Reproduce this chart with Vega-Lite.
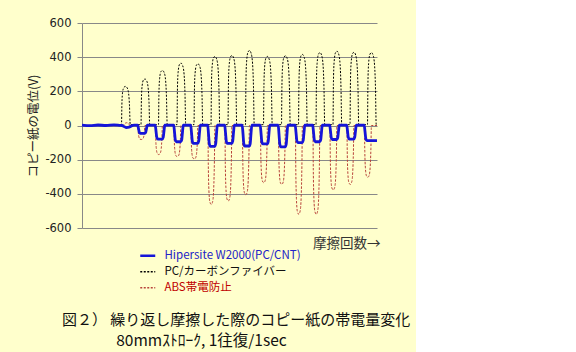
{
"$schema": "https://vega.github.io/schema/vega-lite/v6.json",
"width": 295, "height": 205,
"autosize": {"type": "none"},
"padding": {"left": 82, "top": 23, "right": 39, "bottom": 124},
"background": "#ffffcc",
"config": {"view": {"stroke": null}, "font": "Noto Sans CJK JP"},
"title": {"text": "図２） 繰り返し摩擦した際のコピー紙の帯電量変化", "subtitle": "\u200d\u3000\u3000\u3000\u200280mmｽﾄﾛｰｸ, 1往復/1sec", "orient": "bottom", "anchor": "start", "frame": "group", "dx": -20, "offset": 19, "fontSize": 15, "subtitleFontSize": 15.5, "font": "Noto Sans CJK JP", "subtitleFont": "Noto Sans CJK JP", "fontWeight": "normal", "color": "#111111", "subtitleColor": "#111111", "subtitlePadding": 6},
"datasets": {
"pc": [
{"t":0,"v":2},{"t":10,"v":0},{"t":20,"v":3},{"t":30,"v":1},{"t":37,"v":3},
{"t":39.5,"v":5},{"t":39.9,"v":126},{"t":40.6,"v":195},{"t":42.0,"v":224},{"t":43.5,"v":229},{"t":45.2,"v":220},{"t":46.6,"v":188},{"t":47.5,"v":115},{"t":48.2,"v":5},
{"t":59.0,"v":5},{"t":59.4,"v":150},{"t":60.1,"v":231},{"t":61.5,"v":267},{"t":63.0,"v":272},{"t":64.7,"v":261},{"t":66.1,"v":223},{"t":67.0,"v":136},{"t":67.7,"v":5},
{"t":76.5,"v":5},{"t":76.9,"v":177},{"t":77.6,"v":274},{"t":79.0,"v":316},{"t":80.5,"v":322},{"t":82.2,"v":309},{"t":83.6,"v":264},{"t":84.5,"v":161},{"t":85.2,"v":5},
{"t":95.0,"v":5},{"t":95.4,"v":201},{"t":96.1,"v":310},{"t":97.5,"v":358},{"t":99.0,"v":365},{"t":100.7,"v":350},{"t":102.1,"v":299},{"t":103.0,"v":183},{"t":103.7,"v":5},
{"t":112.0,"v":5},{"t":112.4,"v":199},{"t":113.1,"v":307},{"t":114.5,"v":354},{"t":116.0,"v":361},{"t":117.7,"v":347},{"t":119.1,"v":296},{"t":120.0,"v":181},{"t":120.7,"v":5},
{"t":129.0,"v":5},{"t":129.4,"v":222},{"t":130.1,"v":343},{"t":131.5,"v":396},{"t":133.0,"v":404},{"t":134.7,"v":388},{"t":136.1,"v":331},{"t":137.0,"v":202},{"t":137.7,"v":5},
{"t":146.0,"v":5},{"t":146.4,"v":226},{"t":147.1,"v":349},{"t":148.5,"v":402},{"t":150.0,"v":410},{"t":151.7,"v":394},{"t":153.1,"v":336},{"t":154.0,"v":205},{"t":154.7,"v":5},
{"t":163.5,"v":5},{"t":163.9,"v":241},{"t":164.6,"v":373},{"t":166.0,"v":430},{"t":167.5,"v":439},{"t":169.2,"v":421},{"t":170.6,"v":360},{"t":171.5,"v":220},{"t":172.2,"v":5},
{"t":181.5,"v":5},{"t":181.9,"v":222},{"t":182.6,"v":343},{"t":184.0,"v":396},{"t":185.5,"v":404},{"t":187.2,"v":388},{"t":188.6,"v":331},{"t":189.5,"v":202},{"t":190.2,"v":5},
{"t":199.5,"v":5},{"t":199.9,"v":224},{"t":200.6,"v":347},{"t":202.0,"v":400},{"t":203.5,"v":408},{"t":205.2,"v":392},{"t":206.6,"v":335},{"t":207.5,"v":204},{"t":208.2,"v":5},
{"t":216.5,"v":5},{"t":216.9,"v":229},{"t":217.6,"v":354},{"t":219.0,"v":408},{"t":220.5,"v":416},{"t":222.2,"v":399},{"t":223.6,"v":341},{"t":224.5,"v":208},{"t":225.2,"v":5},
{"t":234.0,"v":5},{"t":234.4,"v":235},{"t":235.1,"v":363},{"t":236.5,"v":418},{"t":238.0,"v":427},{"t":239.7,"v":410},{"t":241.1,"v":350},{"t":242.0,"v":214},{"t":242.7,"v":5},
{"t":251.0,"v":5},{"t":251.4,"v":239},{"t":252.1,"v":370},{"t":253.5,"v":426},{"t":255.0,"v":435},{"t":256.7,"v":418},{"t":258.1,"v":357},{"t":259.0,"v":218},{"t":259.7,"v":5},
{"t":268.0,"v":5},{"t":268.4,"v":236},{"t":269.1,"v":365},{"t":270.5,"v":420},{"t":272.0,"v":429},{"t":273.7,"v":412},{"t":275.1,"v":352},{"t":276.0,"v":215},{"t":276.7,"v":5},
{"t":285.5,"v":5},{"t":285.9,"v":235},{"t":286.6,"v":363},{"t":288.0,"v":418},{"t":289.5,"v":427},{"t":291.2,"v":410},{"t":292.6,"v":350},{"t":293.5,"v":214},{"t":294.2,"v":5},
{"t":295,"v":4}
],
"abs": [
{"t":0,"v":0},{"t":10,"v":-2},{"t":20,"v":1},{"t":30,"v":-1},{"t":39,"v":0},{"t":41,"v":0},{"t":42.5,"v":10},{"t":44.5,"v":16},{"t":46.5,"v":12},{"t":48,"v":0},
{"t":55.9,"v":0},{"t":56.3,"v":-41},{"t":56.9,"v":-67},{"t":57.9,"v":-80},{"t":59.3,"v":-82},{"t":60.7,"v":-79},{"t":61.7,"v":-66},{"t":62.4,"v":-37},{"t":62.9,"v":0},
{"t":73.4,"v":0},{"t":73.8,"v":-85},{"t":74.4,"v":-139},{"t":75.4,"v":-165},{"t":76.8,"v":-170},{"t":78.2,"v":-163},{"t":79.2,"v":-136},{"t":79.9,"v":-77},{"t":80.4,"v":0},
{"t":91.9,"v":0},{"t":92.3,"v":-91},{"t":92.9,"v":-149},{"t":93.9,"v":-177},{"t":95.3,"v":-182},{"t":96.7,"v":-175},{"t":97.7,"v":-146},{"t":98.4,"v":-82},{"t":98.9,"v":0},
{"t":108.9,"v":0},{"t":109.3,"v":-98},{"t":109.9,"v":-161},{"t":110.9,"v":-190},{"t":112.3,"v":-196},{"t":113.7,"v":-188},{"t":114.7,"v":-157},{"t":115.4,"v":-88},{"t":115.9,"v":0},
{"t":125.9,"v":0},{"t":126.3,"v":-231},{"t":126.9,"v":-379},{"t":127.9,"v":-448},{"t":129.3,"v":-462},{"t":130.7,"v":-444},{"t":131.7,"v":-370},{"t":132.4,"v":-208},{"t":132.9,"v":0},
{"t":142.9,"v":0},{"t":143.3,"v":-221},{"t":143.9,"v":-362},{"t":144.9,"v":-429},{"t":146.3,"v":-442},{"t":147.7,"v":-424},{"t":148.7,"v":-354},{"t":149.4,"v":-199},{"t":149.9,"v":0},
{"t":160.4,"v":0},{"t":160.8,"v":-203},{"t":161.4,"v":-332},{"t":162.4,"v":-393},{"t":163.8,"v":-405},{"t":165.2,"v":-389},{"t":166.2,"v":-324},{"t":166.9,"v":-182},{"t":167.4,"v":0},
{"t":178.4,"v":0},{"t":178.8,"v":-168},{"t":179.4,"v":-275},{"t":180.4,"v":-325},{"t":181.8,"v":-335},{"t":183.2,"v":-322},{"t":184.2,"v":-268},{"t":184.9,"v":-151},{"t":185.4,"v":0},
{"t":196.4,"v":0},{"t":196.8,"v":-173},{"t":197.4,"v":-283},{"t":198.4,"v":-335},{"t":199.8,"v":-345},{"t":201.2,"v":-331},{"t":202.2,"v":-276},{"t":202.9,"v":-155},{"t":203.4,"v":0},
{"t":213.4,"v":0},{"t":213.8,"v":-260},{"t":214.4,"v":-426},{"t":215.4,"v":-504},{"t":216.8,"v":-520},{"t":218.2,"v":-499},{"t":219.2,"v":-416},{"t":219.9,"v":-234},{"t":220.4,"v":0},
{"t":230.9,"v":0},{"t":231.3,"v":-260},{"t":231.9,"v":-426},{"t":232.9,"v":-504},{"t":234.3,"v":-520},{"t":235.7,"v":-499},{"t":236.7,"v":-416},{"t":237.4,"v":-234},{"t":237.9,"v":0},
{"t":247.9,"v":0},{"t":248.3,"v":-189},{"t":248.9,"v":-309},{"t":249.9,"v":-366},{"t":251.3,"v":-377},{"t":252.7,"v":-362},{"t":253.7,"v":-302},{"t":254.4,"v":-170},{"t":254.9,"v":0},
{"t":264.9,"v":0},{"t":265.3,"v":-173},{"t":265.9,"v":-283},{"t":266.9,"v":-335},{"t":268.3,"v":-345},{"t":269.7,"v":-331},{"t":270.7,"v":-276},{"t":271.4,"v":-155},{"t":271.9,"v":0},
{"t":282.4,"v":0},{"t":282.8,"v":-152},{"t":283.4,"v":-248},{"t":284.4,"v":-294},{"t":285.8,"v":-303},{"t":287.2,"v":-291},{"t":288.2,"v":-242},{"t":288.9,"v":-136},{"t":289.4,"v":0},
{"t":295,"v":0}
],
"hip": [
{"t":0,"v":2},{"t":8,"v":-1},{"t":16,"v":3},{"t":24,"v":0},{"t":32,"v":4},{"t":38,"v":1},{"t":40,"v":0},{"t":42,"v":-6},{"t":44.5,"v":-12},{"t":47,"v":-10},{"t":49.5,"v":-2},{"t":52,"v":2},
{"t":55.7,"v":2},{"t":56.5,"v":-18},{"t":57.3,"v":-40},{"t":58.3,"v":-46},{"t":62.7,"v":-46},{"t":63.7,"v":-40},{"t":64.5,"v":-18},{"t":65.3,"v":2},
{"t":73.2,"v":2},{"t":74.0,"v":-32},{"t":74.8,"v":-70},{"t":75.8,"v":-80},{"t":80.2,"v":-80},{"t":81.2,"v":-70},{"t":82.0,"v":-32},{"t":82.8,"v":2},
{"t":91.7,"v":2},{"t":92.5,"v":-38},{"t":93.3,"v":-84},{"t":94.3,"v":-95},{"t":98.7,"v":-95},{"t":99.7,"v":-84},{"t":100.5,"v":-38},{"t":101.3,"v":2},
{"t":108.7,"v":2},{"t":109.5,"v":-42},{"t":110.3,"v":-92},{"t":111.3,"v":-105},{"t":115.7,"v":-105},{"t":116.7,"v":-92},{"t":117.5,"v":-42},{"t":118.3,"v":2},
{"t":125.7,"v":2},{"t":126.5,"v":-49},{"t":127.3,"v":-107},{"t":128.3,"v":-122},{"t":132.7,"v":-122},{"t":133.7,"v":-107},{"t":134.5,"v":-49},{"t":135.3,"v":2},
{"t":142.7,"v":2},{"t":143.5,"v":-42},{"t":144.3,"v":-92},{"t":145.3,"v":-105},{"t":149.7,"v":-105},{"t":150.7,"v":-92},{"t":151.5,"v":-42},{"t":152.3,"v":2},
{"t":160.2,"v":2},{"t":161.0,"v":-48},{"t":161.8,"v":-106},{"t":162.8,"v":-120},{"t":167.2,"v":-120},{"t":168.2,"v":-106},{"t":169.0,"v":-48},{"t":169.8,"v":2},
{"t":178.2,"v":2},{"t":179.0,"v":-43},{"t":179.8,"v":-95},{"t":180.8,"v":-108},{"t":185.2,"v":-108},{"t":186.2,"v":-95},{"t":187.0,"v":-43},{"t":187.8,"v":2},
{"t":196.2,"v":2},{"t":197.0,"v":-50},{"t":197.8,"v":-110},{"t":198.8,"v":-125},{"t":203.2,"v":-125},{"t":204.2,"v":-110},{"t":205.0,"v":-50},{"t":205.8,"v":2},
{"t":213.2,"v":2},{"t":214.0,"v":-40},{"t":214.8,"v":-88},{"t":215.8,"v":-100},{"t":220.2,"v":-100},{"t":221.2,"v":-88},{"t":222.0,"v":-40},{"t":222.8,"v":2},
{"t":230.7,"v":2},{"t":231.5,"v":-38},{"t":232.3,"v":-84},{"t":233.3,"v":-95},{"t":237.7,"v":-95},{"t":238.7,"v":-84},{"t":239.5,"v":-38},{"t":240.3,"v":2},
{"t":247.7,"v":2},{"t":248.5,"v":-33},{"t":249.3,"v":-72},{"t":250.3,"v":-82},{"t":254.7,"v":-82},{"t":255.7,"v":-72},{"t":256.5,"v":-33},{"t":257.3,"v":2},
{"t":264.7,"v":2},{"t":265.5,"v":-32},{"t":266.3,"v":-70},{"t":267.3,"v":-80},{"t":271.7,"v":-80},{"t":272.7,"v":-70},{"t":273.5,"v":-32},{"t":274.3,"v":2},
{"t":282.2,"v":2},{"t":283.0,"v":-35},{"t":283.8,"v":-77},{"t":284.8,"v":-88},{"t":295,"v":-88}
]
},
"encoding": {
"x": {"field": "t", "type": "quantitative", "scale": {"domain": [0, 295], "nice": false, "zero": false},
  "axis": {"title": "摩擦回数→", "labels": false, "ticks": false, "domain": false, "grid": false, "titleFont": "Noto Sans CJK JP", "titleFontSize": 13.5, "titleFontWeight": "normal", "titleColor": "#333333", "titleX": 298, "titleY": 15, "titleAlign": "right", "titleBaseline": "middle"}},
"y": {"field": "v", "type": "quantitative", "scale": {"domain": [-600, 600], "nice": false},
  "axis": {"values": [-600, -400, -200, 0, 200, 400, 600], "labelExpr": "datum.value < 0 ? '-' + abs(datum.value) : '' + datum.value", "title": "コピー紙の電位(V)", "titleFont": "Noto Sans CJK JP", "titleFontSize": 12.5, "titleFontWeight": "normal", "titleColor": "#222222", "titlePadding": 4, "labelFont": "DejaVu Sans", "labelFontSize": 11.5, "labelColor": "#222222", "labelPadding": 6, "tickSize": 5, "tickColor": "#888888", "domainColor": "#888888", "gridColor": "#888888", "gridOpacity": 1, "gridWidth": 1}}
},
"layer": [
{"data": {"name": "pc"}, "mark": {"type": "line", "strokeDash": [2, 1.5], "strokeWidth": 1, "interpolate": "monotone"},
 "encoding": {"color": {"datum": "PC/カーボンファイバー", "scale": {"domain": ["Hipersite W2000(PC/CNT)", "PC/カーボンファイバー", "ABS帯電防止"], "range": ["#1515d8", "#000000", "#b8433a"]},
  "legend": {"orient": "none", "legendX": 60, "legendY": 227, "title": null, "symbolType": "stroke", "symbolSize": 225, "symbolStrokeWidth": 1.5, "labelFont": "Noto Sans CJK JP", "labelFontSize": 11.5, "labelOffset": 11, "rowPadding": 3, "labelLimit": 400,
   "encode": {"labels": {"update": {"fill": {"signal": "datum.value === 'ABS帯電防止' ? '#c00000' : (datum.value === 'PC/カーボンファイバー' ? '#111111' : '#2222c8')"}}},
              "symbols": {"update": {"strokeDash": {"signal": "datum.value === 'Hipersite W2000(PC/CNT)' ? [] : [2, 1.5]"}, "strokeWidth": {"signal": "datum.value === 'Hipersite W2000(PC/CNT)' ? 2.5 : 1.5"}}}}}}}},
{"data": {"name": "abs"}, "mark": {"type": "line", "strokeDash": [2.5, 1.5], "strokeWidth": 1, "interpolate": "monotone"},
 "encoding": {"color": {"datum": "ABS帯電防止"}}},
{"data": {"name": "hip"}, "mark": {"type": "line", "strokeWidth": 2.8, "interpolate": "monotone"},
 "encoding": {"color": {"datum": "Hipersite W2000(PC/CNT)"}}}
]
}
